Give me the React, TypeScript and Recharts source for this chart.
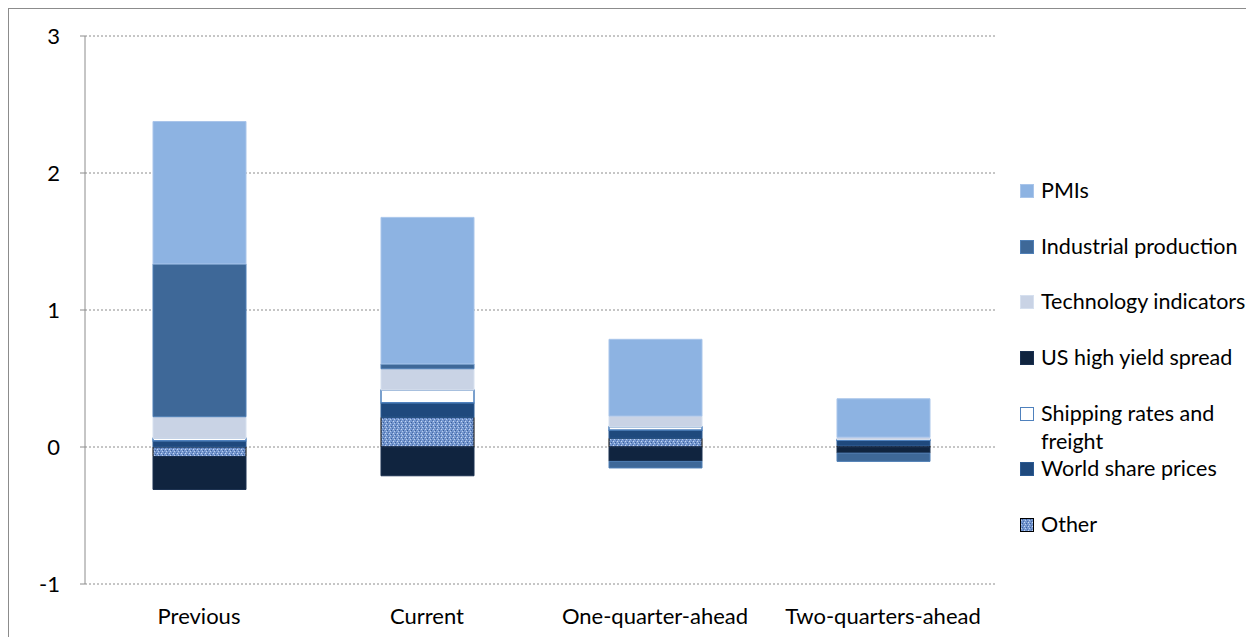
import React from "react";
import { BarChart, Bar, XAxis, YAxis, CartesianGrid } from "recharts";

const categories = ["Previous", "Current", "One-quarter-ahead", "Two-quarters-ahead"];
const pmis = [1.04, 1.07, 0.56, 0.28];
const industrialProduction = [1.115, 0.035, -0.048, -0.06];
const technologyIndicators = [0.158, 0.155, 0.078, 0.017];
const usHighYieldSpread = [-0.24, -0.21, -0.105, -0.045];
const shippingRates = [0.018, 0.093, 0.024, 0.005];
const worldSharePrices = [0.045, 0.106, 0.06, 0.04];
const other = [-0.07, 0.217, 0.064, 0.01];
const yTicks = [-1, 0, 1, 2, 3];
const boundaryTicks = [0, 1, 2, 3, 4];

// stacking order (bottom first), matching the original
const seriesDefs = [
  { key: "other", name: "Other", values: other, fill: "url(#otherPattern)", stroke: "#000000", sw: 1 },
  { key: "world", name: "World share prices", values: worldSharePrices, fill: "#1f497d", stroke: "#2c5a92", sw: 1 },
  { key: "ship", name: "Shipping rates and freight", values: shippingRates, fill: "#ffffff", stroke: "#4f81bd", sw: 1.5 },
  { key: "ushy", name: "US high yield spread", values: usHighYieldSpread, fill: "#10243f", stroke: "#1a3050", sw: 1 },
  { key: "tech", name: "Technology indicators", values: technologyIndicators, fill: "#c9d3e5", stroke: "#d6e0ef", sw: 1 },
  { key: "ip", name: "Industrial production", values: industrialProduction, fill: "#3e6898", stroke: "#4f7fb6", sw: 1 },
  { key: "pmi", name: "PMIs", values: pmis, fill: "#8db3e2", stroke: "#a9c5ea", sw: 1 },
];

const data = categories.map((c, i) => {
  const row: any = { name: c, idx: i + 0.5 };
  seriesDefs.forEach((s) => (row[s.key] = s.values[i]));
  return row;
});

const legendOrder = [...seriesDefs].reverse();
const FONT = "Lato, 'Open Sans', sans-serif";

function PatternDef({ id }: { id: string }) {
  return (
    <pattern id={id} width={4} height={4} patternUnits="userSpaceOnUse">
      <rect width={4} height={4} fill="#7396cf" />
      <rect x={0} y={0} width={1} height={1} fill="#c8d7f0" />
      <rect x={2} y={1} width={1} height={1} fill="#3e5f98" />
      <rect x={1} y={2} width={1} height={1} fill="#b9cdeb" />
      <rect x={3} y={3} width={1} height={1} fill="#4d6ea8" />
    </pattern>
  );
}

function LegendSwatch({ s }: { s: any }) {
  const style: React.CSSProperties = {
    width: 14,
    height: 14,
    boxSizing: "border-box",
    flex: "none",
    marginTop: 8,
    marginRight: 7,
  };
  if (s.key === "other") {
    return (
      <svg width={14} height={14} style={style}>
        <rect x={0.5} y={0.5} width={13} height={13} fill="url(#otherPatternLegend)" stroke="#000" strokeWidth={1} />
      </svg>
    );
  }
  return (
    <div
      style={{
        ...style,
        background: s.fill,
        border: s.key === "ship" ? "1.5px solid #4f81bd" : `1px solid ${s.stroke}`,
      }}
    />
  );
}

export default function App() {
  return (
    <div
      style={{
        position: "relative",
        width: 1262,
        height: 640,
        borderLeft: "1px solid #8c8c8c",
        borderTop: "1px solid #8c8c8c",
        boxSizing: "border-box",
        fontFamily: FONT,
        background: "#fff",
      }}
    >
      <svg width={0} height={0} style={{ position: "absolute" }}>
        <defs>
          <PatternDef id="otherPatternLegend" />
        </defs>
      </svg>
      <BarChart
        width={1245}
        height={628}
        data={data}
        stackOffset="sign"
        barSize={93}
        margin={{ top: 27, right: 257, bottom: 13, left: 36 }}
      >
        <defs>
          <PatternDef id="otherPattern" />
        </defs>
        <CartesianGrid vertical={false} stroke="#8c8c8c" strokeDasharray="2 2" />
        <XAxis
          xAxisId="bound"
          type="number"
          dataKey="idx"
          domain={[0, 4]}
          ticks={boundaryTicks}
          tick={false}
          tickSize={6}
          height={0}
          axisLine={{ stroke: "#8c8c8c" }}
          tickLine={{ stroke: "#8c8c8c" }}
        />
        <XAxis
          dataKey="name"
          height={40}
          axisLine={false}
          tickLine={false}
          tickSize={0}
          tickMargin={24}
          tick={{ fill: "#000", fontSize: 22, fontFamily: FONT }}
          interval={0}
        />
        <YAxis
          domain={[-1, 3]}
          ticks={yTicks}
          width={40}
          tickSize={5}
          tickMargin={20}
          axisLine={{ stroke: "#8c8c8c" }}
          tickLine={{ stroke: "#8c8c8c" }}
          tick={{ fill: "#000", fontSize: 22, fontFamily: FONT }}
        />
        {seriesDefs.map((s) => (
          <Bar
            key={s.key}
            dataKey={s.key}
            name={s.name}
            stackId="a"
            fill={s.fill}
            stroke={s.stroke}
            strokeWidth={s.sw}
            isAnimationActive={false}
          />
        ))}
      </BarChart>
      <div style={{ position: "absolute", left: 1011, top: 167, width: 240 }}>
        {legendOrder.map((s) => (
          <div
            key={s.key}
            style={{
              display: "flex",
              alignItems: "flex-start",
              fontSize: 21.5,
              lineHeight: "28px",
              height: 55.7,
              color: "#000",
            }}
          >
            <LegendSwatch s={s} />
            <span style={{ width: 214, whiteSpace: "normal" }}>{s.name}</span>
          </div>
        ))}
      </div>
    </div>
  );
}
